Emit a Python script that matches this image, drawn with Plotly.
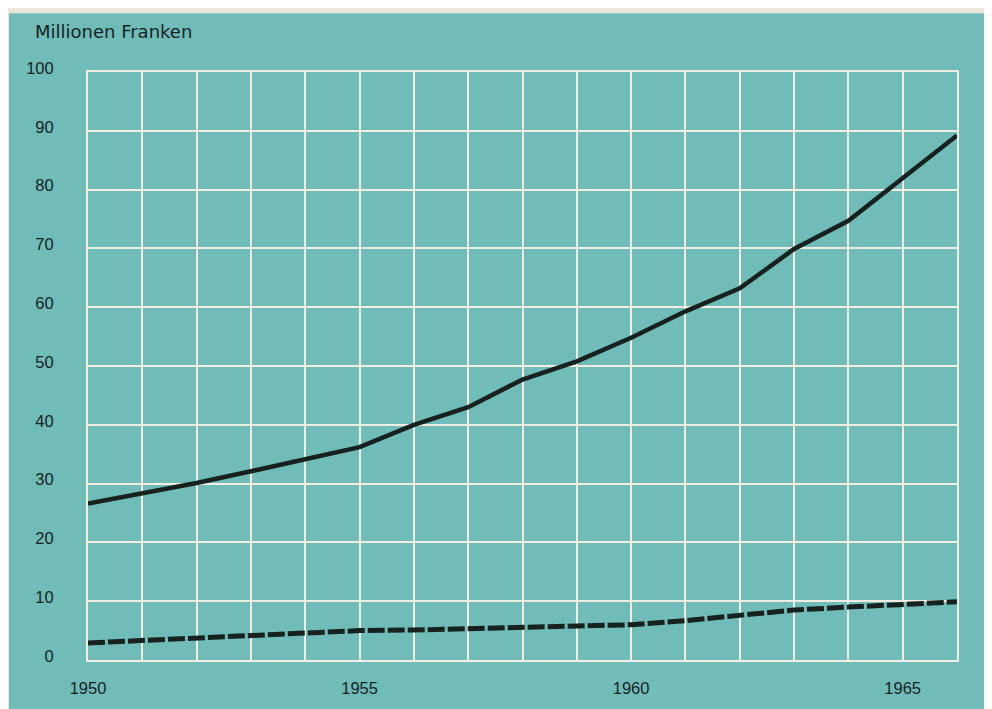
import plotly.graph_objects as go

years = list(range(1950, 1967))
total = [26.6, 28.3, 30.1, 32.1, 34.2, 36.2, 40.0, 43.0, 47.7, 50.8, 54.8,
         59.3, 63.2, 69.9, 74.7, 82.0, 89.2]
part = [2.9, 3.3, 3.8, 4.2, 4.6, 5.0, 5.1, 5.3, 5.6, 5.8, 6.0,
        6.7, 7.6, 8.5, 9.0, 9.5, 9.9]
x_tickvals = [1950, 1955, 1960, 1965]
y_tickvals = [0, 10, 20, 30, 40, 50, 60, 70, 80, 90, 100]
y_title = "Millionen Franken"

TEAL = "#6fbcb8"
GRID = "#f2efe2"
INK = "#17221f"
FONT = "Liberation Sans, Arial, sans-serif"

fig = go.Figure()
fig.add_trace(go.Scatter(x=years, y=total, mode="lines",
                         line=dict(color=INK, width=4.5), showlegend=False))
fig.add_trace(go.Scatter(x=years, y=part, mode="lines",
                         line=dict(color=INK, width=5, dash="17px,3px"),
                         showlegend=False))

# page body has an 8px margin: work in figure coordinates = window - 8
OFF = 8
W, H = 992 - OFF, 709 - OFF
L, R, T, B = 88 - OFF, 992 - 957, 72 - OFF, 709 - 663
pw, ph = W - L - R, H - T - B

def px_x(p):
    return (p - OFF - L) / pw

def px_y(p):
    return (H - B - (p - OFF)) / ph

fig.add_shape(type="rect", xref="paper", yref="paper", layer="below",
              x0=px_x(9), x1=px_x(1000), y0=px_y(720), y1=px_y(13),
              fillcolor=TEAL, line=dict(width=0))

fig.add_annotation(xref="paper", yref="paper", x=px_x(33), y=px_y(31),
                   xanchor="left", yanchor="middle", showarrow=False,
                   text=y_title,
                   font=dict(family="DejaVu Sans, Liberation Sans, sans-serif",
                             size=18, color=INK))

fig.update_layout(
    width=W, height=H,
    margin=dict(l=L, r=R, t=T, b=B, pad=0),
    paper_bgcolor="#ece6d8",
    plot_bgcolor=TEAL,
    font=dict(family=FONT, size=16.5, color=INK),
    xaxis=dict(range=[1950, 1966], tickvals=x_tickvals,
               ticktext=[str(v) for v in x_tickvals],
               showgrid=True, gridcolor=GRID, gridwidth=2,
               minor=dict(dtick=1, tick0=1950, showgrid=True,
                          gridcolor=GRID, gridwidth=2),
               showline=True, linecolor=GRID, linewidth=2, mirror=True,
               zeroline=False, ticks="", ticklabelstandoff=12,
               fixedrange=True),
    yaxis=dict(range=[0, 100], tickvals=y_tickvals,
               showgrid=True, gridcolor=GRID, gridwidth=2,
               showline=True, linecolor=GRID, linewidth=2, mirror=True,
               zeroline=False, ticks="", ticklabelstandoff=29,
               ticklabelshift=-4, fixedrange=True),
)

fig.write_html("out.html")
